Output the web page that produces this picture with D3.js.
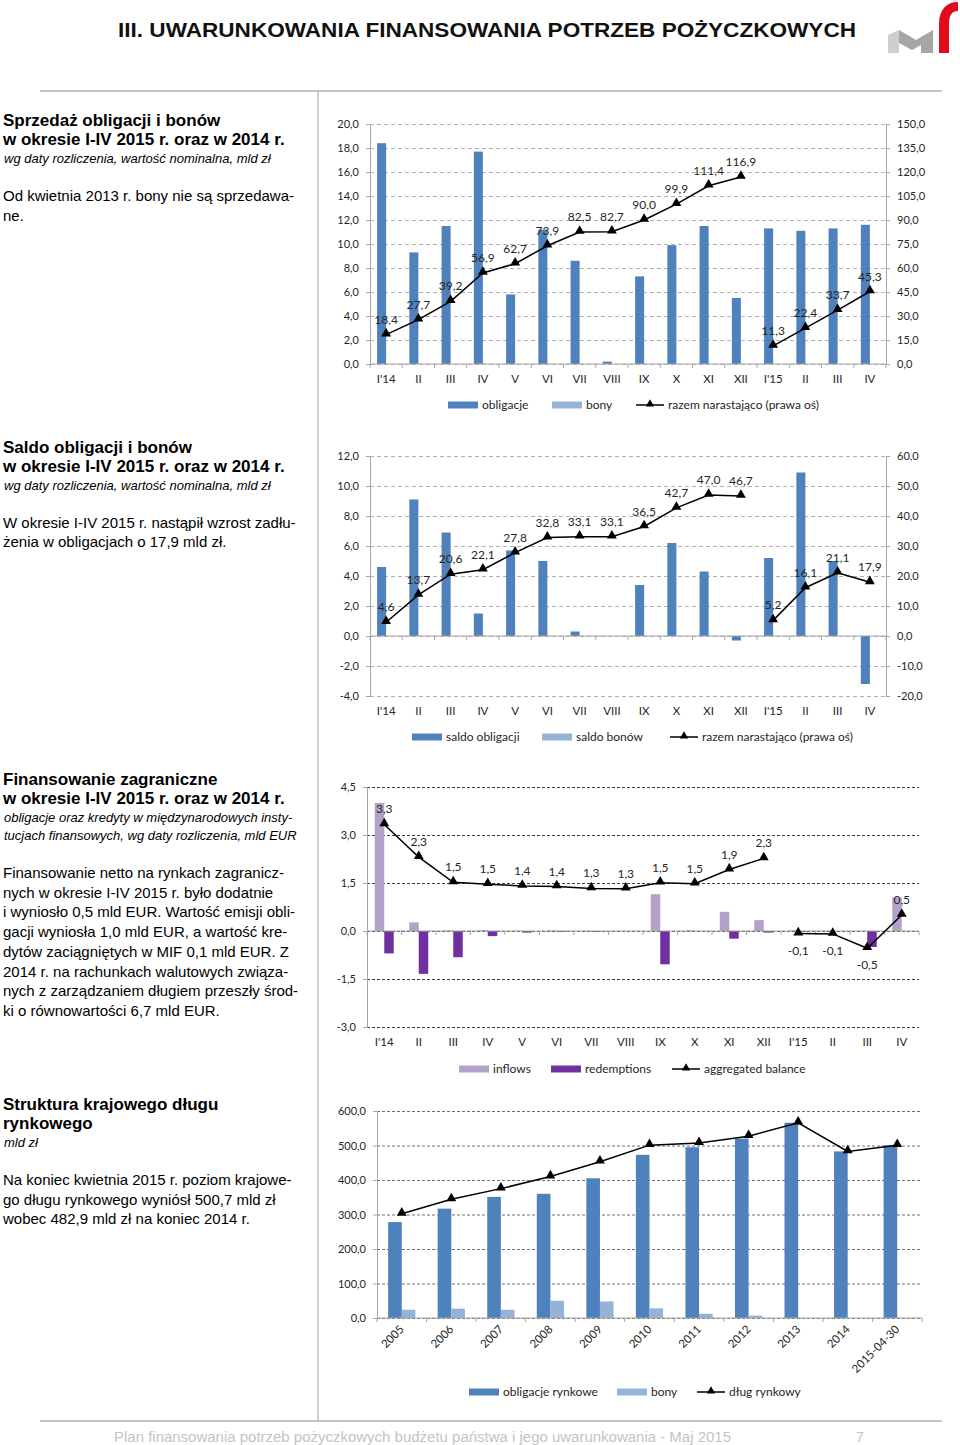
<!DOCTYPE html>
<html>
<head>
<meta charset="utf-8">
<script src="https://cdn.jsdelivr.net/npm/d3@7"></script>
<style>
  body { margin: 0; background: #fff; }
  svg text { font-family: "Liberation Sans", Arial, sans-serif; }
  .ch text { font-family: Lato, "Open Sans", sans-serif; fill: #262626; }
</style>
</head>
<body>
<svg id="page"></svg>
<script>
// ---------- DATA ----------
const months = ["I'14", "II", "III", "IV", "V", "VI", "VII", "VIII", "IX", "X", "XI", "XII", "I'15", "II", "III", "IV"];

// sprzedaz obligacji i bonow, mld zl
const saleBonds = [18.4, 9.3, 11.5, 17.7, 5.8, 11.2, 8.6, 0.2, 7.3, 9.9, 11.5, 5.5, 11.3, 11.1, 11.3, 11.6];
const saleBills = [0, 0, 0, 0, 0, 0, 0, 0, 0, 0, 0, 0, 0, 0, 0, 0];
const saleCum = [18.4, 27.7, 39.2, 56.9, 62.7, 73.9, 82.5, 82.7, 90.0, 99.9, 111.4, 116.9, 11.3, 22.4, 33.7, 45.3];

// saldo obligacji i bonow, mld zl
const balBonds = [4.6, 9.1, 6.9, 1.5, 5.7, 5.0, 0.3, 0.0, 3.4, 6.2, 4.3, -0.3, 5.2, 10.9, 5.0, -3.2];
const balBills = [0, 0, 0, 0, 0, 0, 0, 0, 0, 0, 0, 0, 0, 0, 0, 0];
const balCum = [4.6, 13.7, 20.6, 22.1, 27.8, 32.8, 33.1, 33.1, 36.5, 42.7, 47.0, 46.7, 5.2, 16.1, 21.1, 17.9];

// finansowanie zagraniczne, mld EUR
const inflows = [4.0, 0.27, 0.02, 0.03, 0.01, 0.02, 0.01, 0, 1.15, 0.02, 0.60, 0.34, 0.02, 0.01, 0, 1.05];
const redemptions = [-0.70, -1.34, -0.82, -0.16, -0.05, -0.03, -0.03, 0, -1.04, 0, -0.24, -0.05, -0.02, 0, -0.50, 0];
const aggBalance = [3.33, 2.31, 1.52, 1.46, 1.41, 1.39, 1.33, 1.32, 1.51, 1.48, 1.92, 2.27, -0.08, -0.09, -0.54, 0.50];

// struktura krajowego dlugu rynkowego, mld zl
const years = ["2005", "2006", "2007", "2008", "2009", "2010", "2011", "2012", "2013", "2014", "2015-04-30"];
const mktBonds = [278, 317, 351, 360, 405, 473, 495, 520, 566, 482.9, 500.7];
const mktBills = [24, 27, 24, 50, 48, 28, 12, 7, 0, 0, 0];
const mktDebt = [302, 344, 375, 410, 453, 501, 507, 527, 566, 482.9, 500.7];

// ---------- PAGE ----------
const W = 960, H = 1445;
const svg = d3.select("#page").attr("width", W).attr("height", H);
const fmt1 = v => d3.format(".1f")(v).replace(".", ",").replace("−", "-");

svg.append("text").attr("x", 118).attr("y", 37)
  .attr("textLength", 738).attr("lengthAdjust", "spacingAndGlyphs")
  .style("font-size", "20px").style("font-weight", "bold").attr("fill", "#111")
  .text("III. UWARUNKOWANIA FINANSOWANIA POTRZEB POŻYCZKOWYCH");

// logo mf
const logo = svg.append("g");
logo.append("polygon").attr("points", "888,35 899,30 899,53 888,53").attr("fill", "#cfcfcf");
logo.append("polygon").attr("points", "899,30 916,40 933,30 933,53 921,53 921,45 912,50 899,43").attr("fill", "#a6a6a6");
logo.append("path").attr("d", "M939,53 L939,24 C939,9 947,2 958,2 L958,11 C952,11 949,15 949,24 L949,53 Z").attr("fill", "#e30a1c");

// separators
svg.append("line").attr("x1", 40).attr("x2", 942).attr("y1", 91).attr("y2", 91).attr("stroke", "#b0b0b0").attr("stroke-width", 1.5);
svg.append("line").attr("x1", 40).attr("x2", 942).attr("y1", 1421).attr("y2", 1421).attr("stroke", "#b0b0b0").attr("stroke-width", 1.5);
svg.append("line").attr("x1", 318).attr("x2", 318).attr("y1", 91).attr("y2", 1421).attr("stroke", "#a0a0a0").attr("stroke-width", 1);

svg.append("text").attr("x", 114).attr("y", 1442).attr("textLength", 617).attr("lengthAdjust", "spacingAndGlyphs")
  .style("font-size", "14px").attr("fill", "#c4c4c4")
  .text("Plan finansowania potrzeb pożyczkowych budżetu państwa i jego uwarunkowania - Maj 2015");
svg.append("text").attr("x", 856).attr("y", 1442).style("font-size", "14px").attr("fill", "#c4c4c4").text("7");

// left column texts
function block(y0, heads, subs, body, step) {
  const g = svg.append("g").attr("fill", "#000");
  let y = y0;
  heads.forEach(t => {
    g.append("text").attr("x", 3).attr("y", y).style("font-size", "17px").style("font-weight", "bold").text(t);
    y += 19;
  });
  y -= 1;
  subs.forEach(t => {
    g.append("text").attr("x", 4).attr("y", y).style("font-size", "13px").style("font-style", "italic").text(t);
    y += 18;
  });
  y += 20;
  body.forEach(t => {
    g.append("text").attr("x", 3).attr("y", y).style("font-size", "15px").text(t);
    y += step;
  });
}
block(126, ["Sprzedaż obligacji i bonów", "w okresie I-IV 2015 r. oraz w 2014 r."],
  ["wg daty rozliczenia, wartość nominalna, mld zł"],
  ["Od kwietnia 2013 r. bony nie są sprzedawa-", "ne."], 20);
block(453, ["Saldo obligacji i bonów", "w okresie I-IV 2015 r. oraz w 2014 r."],
  ["wg daty rozliczenia, wartość nominalna, mld zł"],
  ["W okresie I-IV 2015 r. nastąpił wzrost zadłu-", "żenia w obligacjach o 17,9 mld zł."], 19);
block(785, ["Finansowanie zagraniczne", "w okresie I-IV 2015 r. oraz w 2014 r."],
  ["obligacje oraz kredyty w międzynarodowych insty-", "tucjach finansowych, wg daty rozliczenia, mld EUR"],
  ["Finansowanie netto na rynkach zagranicz-", "nych w okresie I-IV 2015 r. było dodatnie",
   "i wyniosło 0,5 mld EUR. Wartość emisji obli-", "gacji wyniosła 1,0 mld EUR, a wartość kre-",
   "dytów zaciągniętych w MIF 0,1 mld EUR. Z", "2014 r. na rachunkach walutowych związa-",
   "nych z zarządzaniem długiem przeszły środ-", "ki o równowartości 6,7 mld EUR."], 19.7);
block(1110, ["Struktura krajowego długu", "rynkowego"], ["mld zł"],
  ["Na koniec kwietnia 2015 r. poziom krajowe-", "go długu rynkowego wyniósł 500,7 mld zł",
   "wobec 482,9 mld zł na koniec 2014 r."], 19.5);

// ---------- CHARTS ----------
function combo(c) {
  const g = svg.append("g").attr("class", "ch");
  const n = c.cats.length;
  const x = d3.scaleBand().domain(d3.range(n)).range(c.xr).paddingInner(c.pad).paddingOuter(c.pad / 2);
  const x1 = d3.scaleBand().domain(d3.range(c.bars.length)).range([0, x.bandwidth()]);
  const y = d3.scaleLinear().domain(c.yd).range(c.yr);
  const yR = c.yRd ? d3.scaleLinear().domain(c.yRd).range(c.yr) : y;
  const ticks = d3.range(c.yd[0], c.yd[1] + c.yStep / 2, c.yStep);
  const w = c.xr[1] - c.xr[0];

  // grid
  const grid = g.append("g").attr("transform", `translate(${c.xr[0]},0)`)
    .call(d3.axisLeft(y).tickValues(ticks).tickSize(-w).tickFormat(""));
  grid.select(".domain").remove();
  grid.selectAll("line").attr("stroke", c.gridColor).attr("stroke-dasharray", c.dash).attr("stroke-width", 1);

  // left axis
  const ax = g.append("g").attr("transform", `translate(${c.xr[0]},0)`)
    .call(d3.axisLeft(y).tickValues(ticks).tickSize(4).tickPadding(7).tickFormat(fmt1));
  ax.select(".domain").attr("stroke", "#a6a6a6");
  ax.selectAll("line").attr("stroke", "#a6a6a6");
  ax.selectAll("text").style("font-size", "11px");

  if (c.yRd) {
    const tR = d3.range(c.yRd[0], c.yRd[1] + c.yRStep / 2, c.yRStep);
    const axR = g.append("g").attr("transform", `translate(${c.xr[1]},0)`)
      .call(d3.axisRight(yR).tickValues(tR).tickSize(4).tickPadding(7).tickFormat(fmt1));
    axR.select(".domain").attr("stroke", "#a6a6a6");
    axR.selectAll("line").attr("stroke", "#a6a6a6");
    axR.selectAll("text").style("font-size", "11px");
  }

  // bars
  c.bars.forEach((s, k) => {
    g.append("g").selectAll("rect").data(s.values).join("rect")
      .attr("x", (d, i) => x(i) + x1(k))
      .attr("width", x1.bandwidth())
      .attr("y", d => Math.min(y(d), y(0)))
      .attr("height", d => Math.abs(y(d) - y(0)))
      .attr("fill", s.color);
  });

  // zero axis with ticks between categories
  g.append("line").attr("x1", c.xr[0]).attr("x2", c.xr[1]).attr("y1", y(0)).attr("y2", y(0)).attr("stroke", "#a6a6a6");
  g.append("g").selectAll("line").data(d3.range(n + 1)).join("line")
    .attr("x1", i => c.xr[0] + i * x.step()).attr("x2", i => c.xr[0] + i * x.step())
    .attr("y1", y(0)).attr("y2", y(0) + 4).attr("stroke", "#a6a6a6");

  // category labels
  const xa = g.append("g").attr("transform", `translate(0,${c.yr[0] + c.labOff})`)
    .call(d3.axisBottom(x).tickSize(0).tickPadding(0).tickFormat(i => c.cats[i]));
  xa.select(".domain").remove();
  xa.selectAll("text").style("font-size", "11.5px");
  if (c.rotate) {
    xa.selectAll("text").attr("text-anchor", "end").attr("dy", 0)
      .attr("transform", "translate(3,0) rotate(-45)");
  }

  // line
  const ys = c.lineAxis === "right" ? yR : y;
  const cx = i => x(i) + x.bandwidth() / 2;
  const line = d3.line().x(d => cx(d.i)).y(d => ys(d.v));
  const pts = c.line.map((v, i) => ({ v, i }));
  const segs = c.breakAt ? [pts.slice(0, c.breakAt), pts.slice(c.breakAt)] : [pts];
  segs.forEach(sg => g.append("path").datum(sg).attr("d", line)
    .attr("fill", "none").attr("stroke", "#000").attr("stroke-width", 1.5));
  g.append("g").selectAll("path").data(pts).join("path")
    .attr("transform", d => `translate(${cx(d.i)},${ys(d.v) - 1})`)
    .attr("d", d3.symbol(d3.symbolTriangle, 42)).attr("fill", "#000");

  if (c.labels) {
    g.append("g").selectAll("text").data(pts).join("text")
      .attr("x", d => cx(d.i))
      .attr("y", d => ys(d.v) + (d.v < 0 ? 21 : -11))
      .attr("text-anchor", "middle").style("font-size", "12px")
      .text(d => fmt1(d.v));
  }

  // legend
  const lg = g.append("g");
  c.legend.forEach(it => {
    if (it.type === "rect") {
      lg.append("rect").attr("x", it.x).attr("y", c.legY - 3.5).attr("width", 30).attr("height", 7).attr("fill", it.color);
      lg.append("text").attr("x", it.x + 34).attr("y", c.legY + 4).style("font-size", "12px").text(it.label);
    } else {
      lg.append("line").attr("x1", it.x).attr("x2", it.x + 28).attr("y1", c.legY).attr("y2", c.legY).attr("stroke", "#000").attr("stroke-width", 1.5);
      lg.append("path").attr("transform", `translate(${it.x + 14},${c.legY - 1})`).attr("d", d3.symbol(d3.symbolTriangle, 30)).attr("fill", "#000");
      lg.append("text").attr("x", it.x + 32).attr("y", c.legY + 4).style("font-size", "12px").text(it.label);
    }
  });
}

const blue = "#4f81bd", lblue = "#95b3d7";

combo({
  cats: months, xr: [370, 886], pad: 0.44,
  yd: [0, 20], yStep: 2, yr: [364, 124], yRd: [0, 150], yRStep: 15,
  gridColor: "#b0b0b0", dash: "4,3", labOff: 11,
  bars: [{ values: saleBonds, color: blue }, { values: saleBills, color: lblue }],
  line: saleCum, lineAxis: "right", breakAt: 12, labels: true,
  legY: 405,
  legend: [{ type: "rect", x: 448, color: blue, label: "obligacje" },
           { type: "rect", x: 552, color: lblue, label: "bony" },
           { type: "line", x: 636, label: "razem narastająco (prawa oś)" }]
});

combo({
  cats: months, xr: [370, 886], pad: 0.44,
  yd: [-4, 12], yStep: 2, yr: [696, 456], yRd: [-20, 60], yRStep: 10,
  gridColor: "#b0b0b0", dash: "4,3", labOff: 11,
  bars: [{ values: balBonds, color: blue }, { values: balBills, color: lblue }],
  line: balCum, lineAxis: "right", breakAt: 12, labels: true,
  legY: 737,
  legend: [{ type: "rect", x: 412, color: blue, label: "saldo obligacji" },
           { type: "rect", x: 542, color: lblue, label: "saldo bonów" },
           { type: "line", x: 670, label: "razem narastająco (prawa oś)" }]
});

combo({
  cats: months, xr: [367, 919], pad: 0.45,
  yd: [-3, 4.5], yStep: 1.5, yr: [1027, 787],
  gridColor: "#404040", dash: "3,2", labOff: 11,
  bars: [{ values: inflows, color: "#b3a2c7" }, { values: redemptions, color: "#7030a0" }],
  line: aggBalance, lineAxis: "left", breakAt: 12, labels: true,
  legY: 1069,
  legend: [{ type: "rect", x: 459, color: "#b3a2c7", label: "inflows" },
           { type: "rect", x: 551, color: "#7030a0", label: "redemptions" },
           { type: "line", x: 672, label: "aggregated balance" }]
});

combo({
  cats: years, xr: [377, 922], pad: 0.45,
  yd: [0, 600], yStep: 100, yr: [1318, 1111],
  gridColor: "#707070", dash: "3,2", labOff: 12, rotate: true,
  bars: [{ values: mktBonds, color: blue }, { values: mktBills, color: lblue }],
  line: mktDebt, lineAxis: "left", labels: false,
  legY: 1392,
  legend: [{ type: "rect", x: 469, color: blue, label: "obligacje rynkowe" },
           { type: "rect", x: 617, color: lblue, label: "bony" },
           { type: "line", x: 697, label: "dług rynkowy" }]
});
</script>
</body>
</html>
